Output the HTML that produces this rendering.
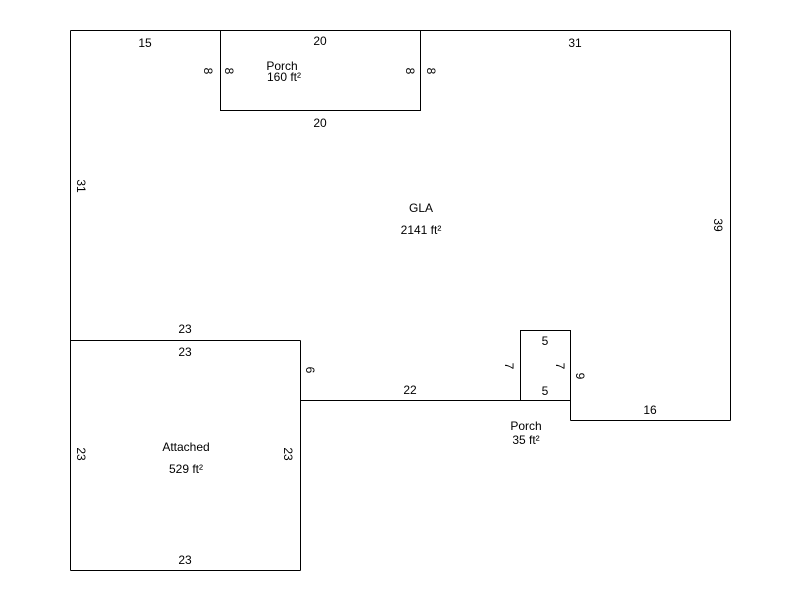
<!DOCTYPE html>
<html><head><style>
body{margin:0;background:#fff}
svg text{font-family:"Liberation Sans",Arial,sans-serif;font-size:12px;fill:#000}
</style></head><body>
<svg width="800" height="600" xmlns="http://www.w3.org/2000/svg">
<g stroke="#000" stroke-width="1" fill="none" shape-rendering="crispEdges">
<line x1="70.5" y1="30.5" x2="730.5" y2="30.5"/>
<line x1="730.5" y1="30.5" x2="730.5" y2="420.5"/>
<line x1="570.5" y1="420.5" x2="730.5" y2="420.5"/>
<line x1="570.5" y1="400.5" x2="570.5" y2="420.5"/>
<line x1="300.5" y1="400.5" x2="570.5" y2="400.5"/>
<line x1="300.5" y1="340.5" x2="300.5" y2="570.5"/>
<line x1="70.5" y1="570.5" x2="300.5" y2="570.5"/>
<line x1="70.5" y1="30.5" x2="70.5" y2="570.5"/>
<line x1="70.5" y1="340.5" x2="300.5" y2="340.5"/>
<rect x="220.5" y="30.5" width="200" height="80"/>
<rect x="520.5" y="330.5" width="50" height="70"/>
</g>
<g text-anchor="middle">
<text x="145" y="47">15</text>
<text x="320" y="45">20</text>
<text x="575" y="47">31</text>
<text x="320" y="127">20</text>
<text x="282" y="70">Porch</text>
<text x="284" y="81">160 ft²</text>
<text x="421" y="212">GLA</text>
<text x="421" y="234">2141 ft²</text>
<text x="185" y="333">23</text>
<text x="185" y="356">23</text>
<text x="185" y="564">23</text>
<text x="186" y="451">Attached</text>
<text x="186" y="473">529 ft²</text>
<text x="410" y="394">22</text>
<text x="545" y="345">5</text>
<text x="545" y="395">5</text>
<text x="650" y="414">16</text>
<text x="526" y="430">Porch</text>
<text x="526" y="444">35 ft²</text>
<text transform="translate(204,71) rotate(90)">8</text>
<text transform="translate(225,71) rotate(90)">8</text>
<text transform="translate(406,71) rotate(90)">8</text>
<text transform="translate(427,71) rotate(90)">8</text>
<text transform="translate(77,186) rotate(90)">31</text>
<text transform="translate(714,225) rotate(90)">39</text>
<text transform="translate(77,454) rotate(90)">23</text>
<text transform="translate(284,454) rotate(90)">23</text>
<text transform="translate(306,370) rotate(90)">6</text>
<text transform="translate(505,366) rotate(90)">7</text>
<text transform="translate(556,366) rotate(90)">7</text>
<text transform="translate(576,376) rotate(90)">9</text>
</g>
</svg>
</body></html>
